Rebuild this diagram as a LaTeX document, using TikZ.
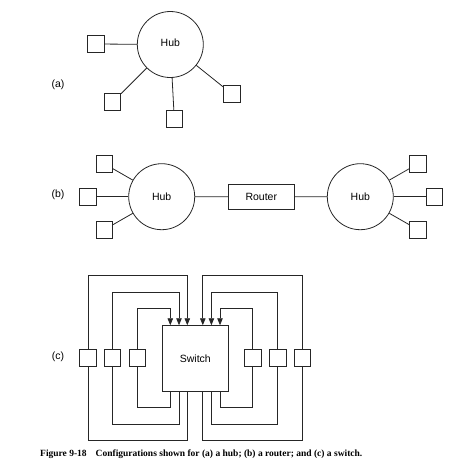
\documentclass[tikz,border=0pt]{standalone}
\usepackage{fontspec}
\setmainfont{Liberation Serif}
\newfontfamily\lsans{Liberation Sans}
\usetikzlibrary{arrows.meta}
\begin{document}
\begin{tikzpicture}[x=1pt,y=-1pt,
  ln/.style={draw=black!85,line width=0.8pt},
  sq/.style={ln,rectangle,minimum width=16.5pt,minimum height=17pt,inner sep=0pt},
  hub/.style={ln,circle,minimum size=66pt,inner sep=0pt,font=\lsans\fontsize{10.5}{12}\selectfont},
  boxn/.style={ln,rectangle,inner sep=0pt,font=\lsans\fontsize{10.5}{12}\selectfont},
  lab/.style={font=\lsans\fontsize{10.5}{12}\selectfont,inner sep=0pt},
  arr/.style={ln,-{Triangle[length=7pt,width=5.5pt]}}]
\useasboundingbox (0,0) rectangle (469,467);
% ---------- (a)
\node[lab] (la) at (58,84.5) {(a)};
\node[hub] (ha) at (170.3,44.5) {};
\node[lab] at (170.3,43) {Hub};
\node[sq] (a1) at (96,44) {};
\node[sq] (a2) at (112.5,102.3) {};
\node[sq] (a3) at (174.3,118.7) {};
\node[sq] (a4) at (231.8,93.8) {};
\foreach \s in {a1,a2,a3,a4} \draw[ln] (\s) -- (ha);
% ---------- (b)
\node[lab] (lb) at (58,194.5) {(b)};
\node[hub] (hb1) at (161.7,196.7) {};
\node[lab] at (161.7,196.7) {Hub};
\node[hub] (hb2) at (360.3,196.7) {};
\node[lab] at (360.3,196.7) {Hub};
\node[boxn,minimum width=66pt,minimum height=25pt] (rt) at (261.3,196.8) {Router};
\node[sq] (b1) at (104.2,163.7) {};
\node[sq] (b2) at (87.7,196.7) {};
\node[sq] (b3) at (104.2,229.7) {};
\node[sq] (b4) at (418,163.7) {};
\node[sq] (b5) at (434.3,196.7) {};
\node[sq] (b6) at (418,229.7) {};
\foreach \s in {b1,b2,b3} \draw[ln] (\s) -- (hb1);
\foreach \s in {b4,b5,b6} \draw[ln] (\s) -- (hb2);
\draw[ln] (hb1) -- (rt);
\draw[ln] (rt) -- (hb2);
% ---------- (c)
\node[lab] (lc) at (58,356.5) {(c)};
\node[boxn,minimum width=66pt,minimum height=65.3pt] (sw) at (195.3,358.3) {Switch};
\node[sq] (c1) at (88,357.8) {};
\node[sq] (c2) at (112.4,357.8) {};
\node[sq] (c3) at (137.4,357.8) {};
\node[sq] (c4) at (252.7,357.8) {};
\node[sq] (c5) at (277.7,357.8) {};
\node[sq] (c6) at (302.5,357.8) {};
% top turning points
\coordinate (t1) at (187.3,275.3);
\coordinate (t2) at (179,292.3);
\coordinate (t3) at (170.3,308.7);
\coordinate (t4) at (202.8,275.3);
\coordinate (t5) at (211.4,292.3);
\coordinate (t6) at (220,308.7);
% bottom turning points
\coordinate (u1) at (187.3,440);
\coordinate (u2) at (179,424);
\coordinate (u3) at (170.3,407);
\coordinate (u4) at (202.8,440);
\coordinate (u5) at (211.4,424);
\coordinate (u6) at (220,407);
\draw[arr] (c1.north) |- (t1) -- (t1 |- sw.north);
\draw[arr] (c2.north) |- (t2) -- (t2 |- sw.north);
\draw[arr] (c3.north) |- (t3) -- (t3 |- sw.north);
\draw[arr] (c6.north) |- (t4) -- (t4 |- sw.north);
\draw[arr] (c5.north) |- (t5) -- (t5 |- sw.north);
\draw[arr] (c4.north) |- (t6) -- (t6 |- sw.north);
\draw[ln] (c1.south) |- (u1) -- (u1 |- sw.south);
\draw[ln] (c2.south) |- (u2) -- (u2 |- sw.south);
\draw[ln] (c3.south) |- (u3) -- (u3 |- sw.south);
\draw[ln] (c6.south) |- (u4) -- (u4 |- sw.south);
\draw[ln] (c5.south) |- (u5) -- (u5 |- sw.south);
\draw[ln] (c4.south) |- (u6) -- (u6 |- sw.south);
% ---------- caption
\node[anchor=base west,inner sep=0pt,font=\bfseries\fontsize{9.5}{11}\selectfont] (cap) at (40,456)
  {Figure 9-18\hspace{9pt}Configurations shown for (a) a hub; (b) a router; and (c) a switch.};
\end{tikzpicture}
\end{document}
